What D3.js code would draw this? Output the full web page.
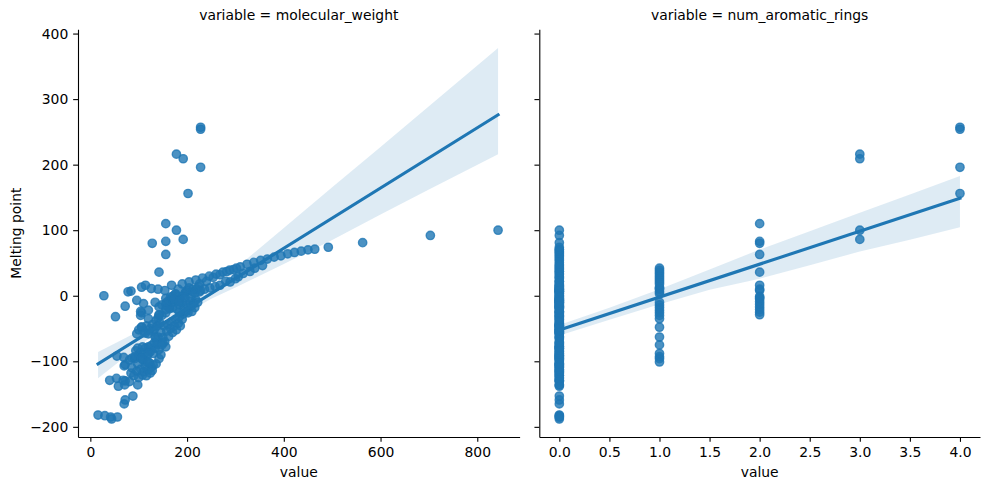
<!DOCTYPE html>
<html><head><meta charset="utf-8">
<script src="https://cdn.jsdelivr.net/npm/d3@7/dist/d3.min.js"></script>
<style>
body{margin:0;background:#fff}
text{font-family:"DejaVu Sans",sans-serif;fill:#000}
</style>
</head><body>
<svg id="chart" width="989" height="490"></svg>
<script>
// ---------------- DATA ----------------
const facetTitles = ["variable = molecular_weight", "variable = num_aromatic_rings"];
const yLabel = "Melting point";
const xLabel = "value";

const yTicks = [-200, -100, 0, 100, 200, 300, 400];
const mwTicks = [0, 200, 400, 600, 800];
const ringTicks = [0, 0.5, 1, 1.5, 2, 2.5, 3, 3.5, 4];

// Compounds without aromatic rings: molecular weight / melting point
const mwRing0 = [16,30,44,58,72,86,100,114,128,142,156,170,184,198,212,226,240,254,268,282,296,310,324,338,352,366,380,394,408,422,436,450,464,492,563,703,843,
  28,42,56,52,72,84,96,104,110,114,70,72,88,40,54,68,81,98,71,
  55,69,81,92,102,109,116,123,130,
  70,72,84,86,90,96,98,100,104,108,110,114,116,120,124,126,128,136,142,146,
  94,98,104,108,112,114,118,120,124,126,130,132,134,136,138,140,142,156,150,
  96,100,106,110,116,120,124,128,132,136,138,140,144,146,148,150,152,154,158,160,162,166,168,170,174,176,178,182,184,186,190,192,194,198,200,202,206,208,210,214,216,218,222,226,
  156,158,160,162,164,166,170,172,176,178,180,184,186,190,192,196,200,204,208,212,216,220,224,228,
  236,247,258,268,280,289,300,306,316,330,340,356];
const mpRing0 = [-182,-183,-188,-138,-130,-95,-91,-57,-54,-30,-26,-10,-5,6,10,18,22,28,32,37,40,44,48,51,54,56,59,61,64,66,68,70,71,74,81,92,100,
  0,-185,-185,-32,-16,7,-7,-24,-12,16,-165,-159,-153,-129,-126,-129,-131,-136,-136,
  -92,-94,-98,-96,-93,-98,-101,-103,-106,
  -107,-105,-118,-110,-122,-115,-104,-125,-112,-121,-116,-108,-122,-113,-118,-109,-114,-104,-96,-90,
  -84,-80,-86,-78,-88,-80,-91,-78,-85,-76,-88,-72,-80,-66,-74,-63,-82,-78,-72,
  -58,-52,-48,-54,-46,-58,-50,-44,-52,-38,-46,-34,-42,-56,-30,-64,-46,-70,-54,-44,-62,-50,-40,-56,-46,-36,-52,-42,-32,-46,-36,-28,-18,-24,-14,-26,-8,-16,-24,-12,-18,-6,-10,6,
  -4,-10,-16,-8,-20,-2,-18,-6,2,-20,-8,-14,-4,-10,0,4,8,12,-2,6,4,10,14,8,
  10,12,14,16,22,21,26,29,34,37,42,46];

// One aromatic ring
const mwRing1 = [78,106,126,140,176,190,204,218,232,246,260,274,288,302,134,148,162,120,106,104,120,106,134,148,120,92,106,120];
const mpRing1 = [6,13,11,10,3,18,21,24,27,30,33,36,39,42,-10,-14,-18,-22,-26,-30,-35,-48,-63,-75,-88,-93,-96,-101];

// Two aromatic rings
const mwRing2 = [156,156,128,156,142,168,182,154,170,170,184,156,142,156,184,142,196];
const mpRing2 = [110,83,80,63,36,16,10,8,-1,-5,-9,-13,-17,-21,-25,-29,-3];

// Three aromatic rings
const mwRing3 = [178,192,178,192];
const mpRing3 = [216,209,100,86];

// Four aromatic rings
const mwRing4 = [228,228,228,202];
const mpRing4 = [257,254,196,156];

// Regression fit and confidence band, molecular_weight facet
const mwFitX = [16, 843];
const mwFitY = [-104, 276];
const mwBandX = [16, 100, 150, 200, 250, 300, 400, 500, 600, 700, 843];
const mwBandLow = [-126, -77, -49.5, -25.5, -4.5, 12.5, 48.5, 85, 124, 162, 216];
const mwBandHigh = [-86, -54, -35.5, -13.5, 11.5, 41.5, 103.5, 165.5, 227, 289, 378];

// Regression fit and confidence band, num_aromatic_rings facet
const ringFitX = [0, 4];
const ringFitY = [-52.4, 148.7];
const ringBandX = [0, 0.5, 1, 1.5, 2, 2.5, 3, 3.5, 4];
const ringBandLow = [-60.5, -36.5, -13, 9, 26, 46.5, 67.5, 85.5, 104.5];
const ringBandHigh = [-44.5, -18.5, 10, 40, 70.5, 98.5, 126.5, 154.5, 182.5];

// ---------------- BUILD ----------------
const compounds = [];
[[mwRing0, mpRing0, 0], [mwRing1, mpRing1, 1], [mwRing2, mpRing2, 2], [mwRing3, mpRing3, 3], [mwRing4, mpRing4, 4]]
  .forEach(([mws, mps, r]) => mws.forEach((m, i) => compounds.push({mw: m, mp: mps[i], rings: r})));

const COLOR = "#1f77b4";
const FS = 13.9;
const svg = d3.select("#chart");
svg.append("rect").attr("width", 989).attr("height", 490).attr("fill", "#fff");

const plotTop = 29.3, plotBottom = 437;
const y = d3.scaleLinear().domain([-215.5, 406.5]).range([plotBottom, plotTop]);

const panels = [
  {title: facetTitles[0], left: 78, right: 519.6, domain: [-25.5, 887.5], ticks: mwTicks, fmt: d3.format("d"),
   key: "mw", fitX: mwFitX, fitY: mwFitY, bandX: mwBandX, bandLow: mwBandLow, bandHigh: mwBandHigh, yLabels: true},
  {title: facetTitles[1], left: 539.3, right: 980, domain: [-0.2, 4.2], ticks: ringTicks, fmt: d3.format(".1f"),
   key: "rings", fitX: ringFitX, fitY: ringFitY, bandX: ringBandX, bandLow: ringBandLow, bandHigh: ringBandHigh, yLabels: false}
];

const TL = 4.86, TP = 4.86;

panels.forEach(p => {
  const x = d3.scaleLinear().domain(p.domain).range([p.left, p.right]);
  const g = svg.append("g");

  g.append("g").selectAll("circle").data(compounds).join("circle")
    .attr("cx", d => x(d[p.key])).attr("cy", d => y(d.mp)).attr("r", 4.17)
    .attr("fill", COLOR).attr("fill-opacity", 0.8)
    .attr("stroke", COLOR).attr("stroke-opacity", 0.8).attr("stroke-width", 1.39);

  const bandData = p.bandX.map((v, i) => ({x: v, lo: p.bandLow[i], hi: p.bandHigh[i]}));
  g.append("path").datum(bandData)
    .attr("d", d3.area().x(d => x(d.x)).y0(d => y(d.lo)).y1(d => y(d.hi)))
    .attr("fill", COLOR).attr("fill-opacity", 0.15).attr("stroke", "none");

  const lineData = p.fitX.map((v, i) => ({x: v, y: p.fitY[i]}));
  g.append("path").datum(lineData)
    .attr("d", d3.line().x(d => x(d.x)).y(d => y(d.y)))
    .attr("fill", "none").attr("stroke", COLOR).attr("stroke-width", 3.1)
    .attr("stroke-linecap", "square");

  const xa = g.append("g").attr("transform", `translate(0,${plotBottom})`)
    .call(d3.axisBottom(x).tickValues(p.ticks).tickFormat(p.fmt).tickSize(TL).tickPadding(TP).tickSizeOuter(0));
  const ya = g.append("g").attr("transform", `translate(${p.left},0)`)
    .call(d3.axisLeft(y).tickValues(yTicks).tickFormat(p.yLabels ? d3.format("d") : () => "").tickSize(TL).tickPadding(TP).tickSizeOuter(0));
  [xa, ya].forEach(a => {
    a.select(".domain").attr("stroke", "#000").attr("stroke-width", 1.1);
    a.selectAll(".tick line").attr("stroke", "#000").attr("stroke-width", 1.1);
    a.selectAll(".tick text").attr("font-family", "DejaVu Sans").attr("font-size", FS).attr("fill", "#000");
  });

  g.append("text").attr("x", (p.left + p.right) / 2).attr("y", 20)
    .attr("text-anchor", "middle").attr("font-size", FS).text(p.title);
  g.append("text").attr("x", (p.left + p.right) / 2).attr("y", 477)
    .attr("text-anchor", "middle").attr("font-size", FS).text(xLabel);
});

svg.append("text").attr("transform", `translate(20.5,${(plotTop + plotBottom) / 2}) rotate(-90)`)
  .attr("text-anchor", "middle").attr("font-size", FS).text(yLabel);
</script>
</body></html>
